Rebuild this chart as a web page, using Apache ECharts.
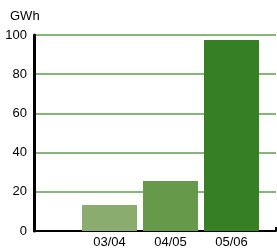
<!DOCTYPE html>
<html><head><meta charset="utf-8">
<script src="https://cdn.jsdelivr.net/npm/echarts@6/dist/echarts.min.js"></script>
<style>html,body{margin:0;padding:0;background:#fff}#c{width:277px;height:251px}</style>
</head><body><div id="c"></div>
<script>
var categories = ['03/04', '04/05', '05/06'];
var values = [13.3, 25.5, 97.4];
var barColors = ['#8aac6e', '#66994a', '#367f24'];
var yTicks = [0, 20, 40, 60, 80, 100];
var unit = 'GWh';

// category slots are placed at 1,2,3 on a numeric x axis that leaves an empty slot on the left
var slots = categories.map(function (c, i) { return i + 1; });
var xMin = -0.238, xMax = 3.73;

var chart = echarts.init(document.getElementById('c'), null, {renderer: 'canvas'});
chart.setOption({
  animation: false,
  grid: {left: 34, right: 1, top: 35, bottom: 20},
  title: {text: unit, left: 5, top: 5, textStyle: {fontFamily: 'Liberation Sans', fontSize: 13, fontWeight: 'normal', color: '#000'}},
  xAxis: {
    type: 'value', min: xMin, max: xMax,
    axisLine: {show: true, onZero: false, lineStyle: {color: '#000', width: 2}},
    axisTick: {show: true, inside: true, length: 4, customValues: [xMax], lineStyle: {color: '#000', width: 2}},
    splitLine: {show: false},
    axisLabel: {
      color: '#000', fontFamily: 'Liberation Sans', fontSize: 13, margin: 5,
      customValues: slots,
      formatter: function (v) { var i = Math.round(v) - 1; return categories[i] || ''; }
    }
  },
  yAxis: {
    type: 'value', min: yTicks[0], max: yTicks[yTicks.length - 1], interval: 20,
    axisLine: {show: true, onZero: false, lineStyle: {color: '#000', width: 3}},
    axisTick: {show: false},
    axisLabel: {color: '#000', fontFamily: 'Liberation Sans', fontSize: 13, margin: 7},
    splitLine: {lineStyle: {color: '#5c9e4a', width: 1.5}}
  },
  series: [{
    type: 'bar', barWidth: 55,
    data: values.map(function (v, i) { return {value: [slots[i], v], itemStyle: {color: barColors[i]}}; })
  }]
});
</script></body></html>
